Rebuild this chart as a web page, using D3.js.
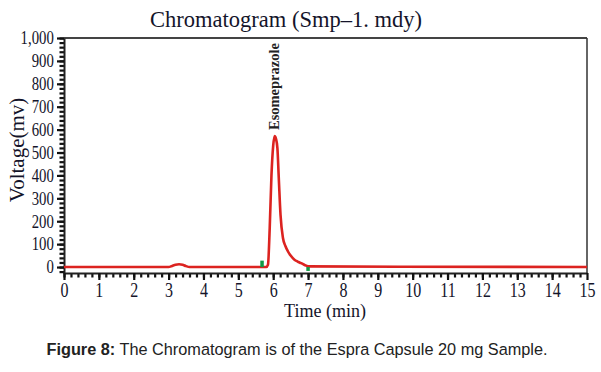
<!DOCTYPE html>
<html>
<head>
<meta charset="utf-8">
<script src="https://cdn.jsdelivr.net/npm/d3@7"></script>
<style>
body { margin: 0; background: #fff; }
</style>
</head>
<body>
<div id="chart"></div>
<script>
// signal (min, mV)
var times = [0, 3.0, 3.1, 3.2, 3.3, 3.4, 3.5, 3.6, 5.8, 5.85, 5.9, 5.95, 6.0, 6.04, 6.08, 6.12, 6.16, 6.21, 6.28, 6.35, 6.42, 6.5, 6.61, 6.7, 6.8, 6.9, 7.0, 15];
var volts = [0, 0, 5, 10, 12, 10, 4, 0, 0, 10, 170, 400, 530, 572, 560, 520, 389, 228, 127, 92, 69, 50, 32, 24, 17, 9, 3, 0];

var xTicks = d3.range(0, 16);
var yTicks = d3.range(0, 1001, 100);

var peakNames = ["Esomeprazole"];
var peakTimes = [6.04];
var peakVolts = [572];

// integration start / end marks
var markTimes = [5.68, 7.0];
var markLow = [0, -17];
var markHigh = [28, 0];

var margin = {top: 38, right: 14, bottom: 99, left: 64},
    width = 601 - margin.left - margin.right,
    height = 372 - margin.top - margin.bottom;

var svg = d3.select("#chart")
    .append("svg")
    .attr("width", 601)
    .attr("height", 372);

var g = svg.append("g")
    .attr("transform", "translate(" + margin.left + "," + margin.top + ")");

var x = d3.scaleLinear().domain([0, 15]).range([0, width]);
var y = d3.scaleLinear().domain([-26, 1000]).range([height, 0]);

// frame top and right
g.append("line").attr("x1", 0).attr("x2", width).attr("y1", 0).attr("y2", 0)
    .attr("stroke", "#444").attr("stroke-width", 2);
g.append("line").attr("x1", width).attr("x2", width).attr("y1", 0).attr("y2", height)
    .attr("stroke", "#333").attr("stroke-width", 1.5);

// minor ticks
g.append("g")
    .attr("transform", "translate(0," + height + ")")
    .call(d3.axisBottom(x).tickValues(d3.range(0, 75).map(function (i) { return i * 0.2; })).tickSize(4.5).tickFormat(""))
    .call(function (a) { a.select(".domain").remove(); })
    .selectAll("line").attr("stroke", "#111").attr("stroke-width", 2.2);

g.append("g")
    .call(d3.axisLeft(y).tickValues(d3.range(-20, 1001, 20)).tickSize(4.5).tickFormat(""))
    .call(function (a) { a.select(".domain").remove(); })
    .selectAll("line").attr("stroke", "#111").attr("stroke-width", 2.2);

// major axes
var xAxis = g.append("g")
    .attr("transform", "translate(0," + height + ")")
    .call(d3.axisBottom(x).tickValues(xTicks).tickSize(7).tickSizeOuter(0).tickPadding(3));
xAxis.select(".domain").attr("stroke", "#222").attr("stroke-width", 2);
xAxis.selectAll("line").attr("stroke", "#111").attr("stroke-width", 2.2);
xAxis.selectAll("text")
    .attr("transform", "scale(0.8,1)")
    .style("font-family", "'Liberation Serif', 'Times New Roman', serif")
    .style("font-size", "20px")
    .attr("fill", "#14142a");

var yAxis = g.append("g")
    .call(d3.axisLeft(y).tickValues(yTicks).tickSize(7).tickSizeOuter(0).tickFormat(d3.format(",")));
yAxis.select(".domain").attr("stroke", "#222").attr("stroke-width", 2);
yAxis.selectAll("line").attr("stroke", "#111").attr("stroke-width", 2.2);
yAxis.selectAll("text")
    .attr("x", -12.5)
    .attr("transform", "scale(0.82,1)")
    .style("font-family", "'Liberation Serif', 'Times New Roman', serif")
    .style("font-size", "18px")
    .attr("fill", "#14142a");

// trace
var line = d3.line()
    .x(function (d, i) { return x(times[i]); })
    .y(function (d) { return y(d); })
    .curve(d3.curveMonotoneX);

g.append("path")
    .datum(volts)
    .attr("d", line)
    .attr("fill", "none")
    .attr("stroke", "#dc2320")
    .attr("stroke-width", 2.6)
    .attr("stroke-linejoin", "round");

// integration marks
g.selectAll(".mark")
    .data(markTimes)
    .enter()
    .append("line")
    .attr("class", "mark")
    .attr("x1", function (d) { return x(d); })
    .attr("x2", function (d) { return x(d); })
    .attr("y1", function (d, i) { return y(markLow[i]); })
    .attr("y2", function (d, i) { return y(markHigh[i]); })
    .attr("stroke", "#0f9a45")
    .attr("stroke-width", 3.5);

// peak label
g.selectAll(".peak")
    .data(peakNames)
    .enter()
    .append("text")
    .attr("class", "peak")
    .attr("transform", function (d, i) {
        return "translate(" + (x(peakTimes[i]) + 4) + "," + (y(peakVolts[i]) - 6) + ") rotate(-90)";
    })
    .style("font-family", "'Liberation Serif', 'Times New Roman', serif")
    .style("font-weight", "bold")
    .style("font-size", "14.5px")
    .attr("fill", "#222")
    .text(function (d) { return d; });

// titles
svg.append("text")
    .attr("x", 286)
    .attr("y", 27)
    .attr("text-anchor", "middle")
    .style("font-family", "'Liberation Serif', 'Times New Roman', serif")
    .style("font-size", "22.5px")
    .attr("fill", "#14142a")
    .text("Chromatogram (Smp\u20131. mdy)");

svg.append("text")
    .attr("x", 325)
    .attr("y", 317)
    .attr("text-anchor", "middle")
    .style("font-family", "'Liberation Serif', 'Times New Roman', serif")
    .style("font-size", "18px")
    .attr("fill", "#14142a")
    .text("Time (min)");

svg.append("text")
    .attr("transform", "translate(24,150) rotate(-90)")
    .attr("text-anchor", "middle")
    .style("font-family", "'Liberation Serif', 'Times New Roman', serif")
    .style("font-size", "21px")
    .attr("fill", "#14142a")
    .text("Voltage(mv)");

// caption
var cap = svg.append("text")
    .attr("x", 297)
    .attr("y", 355)
    .attr("text-anchor", "middle")
    .style("font-family", "'Liberation Sans', Arial, sans-serif")
    .style("font-size", "16.3px")
    .attr("fill", "#222");
cap.append("tspan").style("font-weight", "bold").text("Figure 8:");
cap.append("tspan").text(" The Chromatogram is of the Espra Capsule 20 mg Sample.");
</script>
</body>
</html>
